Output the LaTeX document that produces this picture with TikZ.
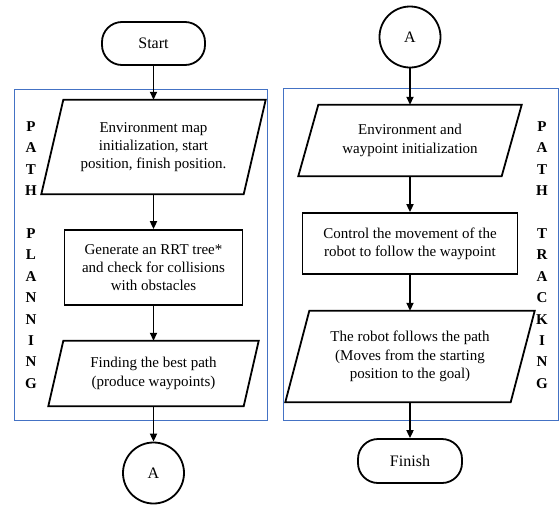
\documentclass[tikz,border=0pt]{standalone}
\usepackage{fontspec}
\setmainfont{Liberation Serif}
\usetikzlibrary{arrows.meta}
\definecolor{laneblue}{HTML}{4472C4}
\begin{document}
\begin{tikzpicture}[x=1pt,y=-1pt,
  every node/.style={font=\fontsize{15}{18.3}\selectfont, inner sep=0pt},
  shapeline/.style={line width=1.8pt, line join=miter},
  term/.style={draw, shapeline, rounded corners=20pt, minimum width=103pt, minimum height=43pt, font=\fontsize{16}{19}\selectfont},
  conn/.style={draw, shapeline, circle, minimum size=61pt, font=\fontsize{16}{19}\selectfont},
  proc/.style={draw, shapeline, align=center},
  para/.style={align=center},
  arr/.style={line width=1.8pt, -{Triangle[length=8pt,width=7pt]}},
  lane/.style={draw=laneblue, line width=1pt},
  letters/.style={font=\bfseries\fontsize{15}{21.4}\selectfont, align=center}]
\useasboundingbox (0,0) rectangle (560,504);

% lanes
\draw[lane] (14,89) rectangle (267,420);
\draw[lane] (283,88) rectangle (558,420);

% left column
\node[term] (start) at (153.5,43.5) {Start};
\node[para, minimum width=224pt, minimum height=94pt] (p1) at (153.5,147) {Environment map\\initialization, start\\position, finish position.};
\draw[shapeline] ([xshift=22pt]p1.north west) -- (p1.north east) -- ([xshift=-22pt]p1.south east) -- (p1.south west) -- cycle;
\node[proc, minimum width=178pt, minimum height=75pt] (p2) at (153.5,267.5) {Generate an RRT tree*\\and check for collisions\\with obstacles};
\node[para, minimum width=210pt, minimum height=65pt] (p3) at (153.5,373.5) {Finding the best path\\(produce waypoints)};
\draw[shapeline] ([xshift=15pt]p3.north west) -- (p3.north east) -- ([xshift=-15pt]p3.south east) -- (p3.south west) -- cycle;
\node[conn] (ca) at (153.5,473) {A};

\draw[arr] (start.south) -- (p1.north);
\draw[arr] (p1.south) -- (p2.north);
\draw[arr] (p2.south) -- (p3.north);
\draw[arr] (p3.south) -- (ca.north);

\node[letters] (lpl) at (31,255) {P\\A\\T\\H\\[21.4pt]P\\L\\A\\N\\N\\I\\N\\G};

% right column
\node[conn] (cb) at (410,37) {A};
\node[para, minimum width=223pt, minimum height=71pt] (r1) at (410,140.5) {Environment and\\waypoint initialization};
\draw[shapeline] ([xshift=20pt]r1.north west) -- (r1.north east) -- ([xshift=-20pt]r1.south east) -- (r1.south west) -- cycle;
\node[proc, minimum width=215pt, minimum height=61pt] (r2) at (410,243.5) {Control the movement of the\\robot to follow the waypoint};
\node[para, minimum width=249pt, minimum height=91pt] (r3) at (410,356.5) {The robot follows the path\\(Moves from the starting\\position to the goal)};
\draw[shapeline] ([xshift=24pt]r3.north west) -- (r3.north east) -- ([xshift=-24pt]r3.south east) -- (r3.south west) -- cycle;
\node[term, minimum width=104pt, minimum height=44pt] (fin) at (410,461) {Finish};

\draw[arr] (cb.south) -- (r1.north);
\draw[arr] (r1.south) -- (r2.north);
\draw[arr] (r2.south) -- (r3.north);
\draw[arr] (r3.south) -- (fin.north);

\node[letters] (rpt) at (542,255) {P\\A\\T\\H\\[21.4pt]T\\R\\A\\C\\K\\I\\N\\G};
\end{tikzpicture}
\end{document}
